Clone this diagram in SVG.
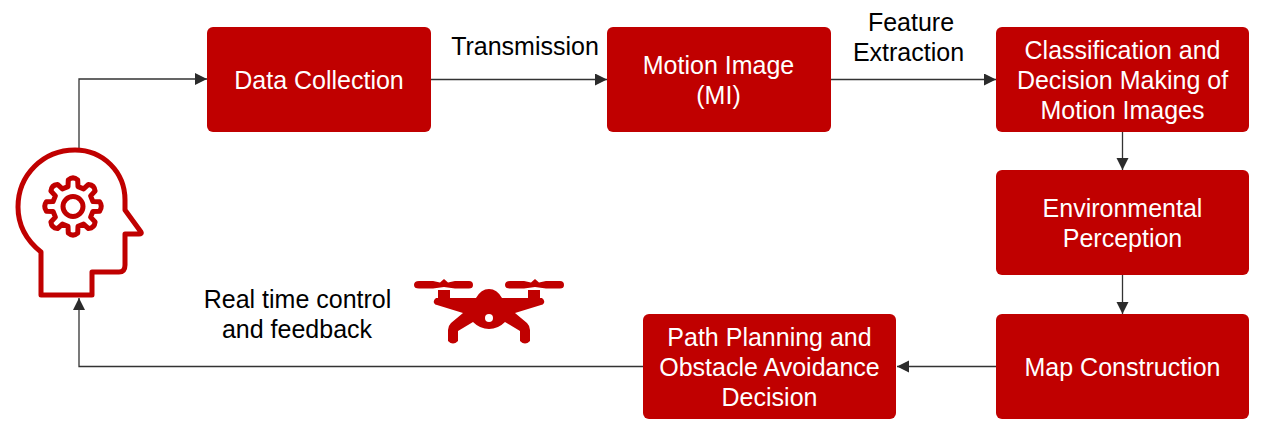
<svg xmlns="http://www.w3.org/2000/svg" width="1265" height="435" viewBox="0 0 1265 435">
<style>
.box{fill:#c00000}
.w{font:25px "Liberation Sans",Arial,sans-serif;fill:#fff;text-anchor:middle}
.k{font:25px "Liberation Sans",Arial,sans-serif;fill:#000;text-anchor:middle}
.c{fill:none;stroke:#333;stroke-width:1.3}
.ic{fill:none;stroke:#c00000;stroke-width:5;stroke-linejoin:round;stroke-linecap:round}
</style>
<defs><marker id="a" markerUnits="userSpaceOnUse" markerWidth="13" markerHeight="13" refX="12" refY="6" orient="auto"><path d="M0 0L12 6L0 12Z" fill="#2b2b2b"/></marker></defs>
<rect width="1265" height="435" fill="#fff"/>
<g id="connectors">
<path class="c" d="M79 149V79H207" marker-end="url(#a)"/>
<path class="c" d="M431 79.500H607" marker-end="url(#a)"/>
<path class="c" d="M831 79.500H996" marker-end="url(#a)"/>
<path class="c" d="M1122.500 132V170" marker-end="url(#a)"/>
<path class="c" d="M1122.500 275V314" marker-end="url(#a)"/>
<path class="c" d="M996 366.500H897" marker-end="url(#a)"/>
<path class="c" d="M643 366.500H79V298" marker-end="url(#a)"/>
</g>
<g id="data-collection"><rect class="box" x="207" y="27" width="224" height="105" rx="6"/><text class="w" x="319" y="88.500">Data Collection</text></g>
<g id="motion-image"><rect class="box" x="607" y="27" width="224" height="105" rx="6"/><text class="w" x="718.500" y="73.500">Motion Image</text><text class="w" x="718.500" y="103.500">(MI)</text></g>
<g id="classification"><rect class="box" x="996" y="27" width="253" height="105" rx="6"/><text class="w" x="1122.500" y="58.500">Classification and</text><text class="w" x="1122.500" y="88.500">Decision Making of</text><text class="w" x="1122.500" y="118.500">Motion Images</text></g>
<g id="environmental"><rect class="box" x="996" y="170" width="253" height="105" rx="6"/><text class="w" x="1122.500" y="216.500">Environmental</text><text class="w" x="1122.500" y="246.500">Perception</text></g>
<g id="map"><rect class="box" x="996" y="314" width="253" height="105" rx="6"/><text class="w" x="1122.500" y="375.500">Map Construction</text></g>
<g id="path-planning"><rect class="box" x="643" y="314" width="253" height="105" rx="6"/><text class="w" x="769.500" y="345.500">Path Planning and</text><text class="w" x="769.500" y="375.500">Obstacle Avoidance</text><text class="w" x="769.500" y="405.500">Decision</text></g>
<g id="labels">
<text class="k" x="525" y="54.500">Transmission</text>
<text class="k" x="911" y="30.500">Feature</text>
<text class="k" x="908.500" y="60.500">Extraction</text>
<text class="k" x="297.500" y="308">Real time control</text>
<text class="k" x="297" y="337.500">and feedback</text>
</g>
<g id="head">
<path class="ic" d="M41 252C26 240 18 225 18 207C18 175 43 150 75 150C103 150 125 172 125 200V210L141 232Q142 234 139 234H125V265C125 270 123 272 119 272H92V295H41Z"/>
<circle class="ic" cx="73" cy="206.500" r="10"/>
<path class="ic" stroke-width="4.500" d="M68.300 179.900Q73 176 77.700 179.900L78 186.600L83.600 188.900L88.500 184.400Q94.500 185 95.100 191L90.600 195.900L92.900 201.500L99.600 201.800Q103 206.500 99.600 211.200L92.900 211.500L90.600 217.100L95.100 222Q94.500 228 88.500 228.600L83.600 224.100L78 226.400L77.700 233.100Q73 237 68.300 233.100L68 226.400L62.400 224.100L57.500 228.600Q51.500 228 50.900 222L55.400 217.100L53.100 211.500L46.400 211.200Q43 206.500 46.400 201.800L53.100 201.500L55.400 195.900L50.900 191Q51.500 185 57.500 184.400L62.400 188.900L68 186.600Z"/>
</g>
<g id="drone" fill="#c00000">
<path d="M414 285Q414 281 419 281H433L440 282.500L444 279L448 282.500L455 281H469Q473 281 473 285Q473 288.500 469 288.500H455L444 287L433 288.500H419Q414 288.500 414 285Z"/>
<path d="M505 285Q505 281 510 281H524L531 282.500L535 279L539 282.500L546 281H560Q564 281 564 285Q564 288.500 560 288.500H546L535 287L524 288.500H510Q505 288.500 505 285Z"/>
<path d="M438 290H450V298H476Q481 289 489 289Q497 289 502 298H528V290H540V298L542 298Q545 300 544 303Q543 305 541 305L515 313L527 323Q530 326 530 330V341Q525 346 520 341V331L505 322Q498 329 489 329Q480 329 473 322L458 331V341Q453 346 448 341V330Q448 326 451 323L463 313L437 305Q435 305 434 303Q433 300 436 298L438 298Z"/>
<circle cx="489" cy="318" r="4" fill="#fff"/>
</g>
</svg>
